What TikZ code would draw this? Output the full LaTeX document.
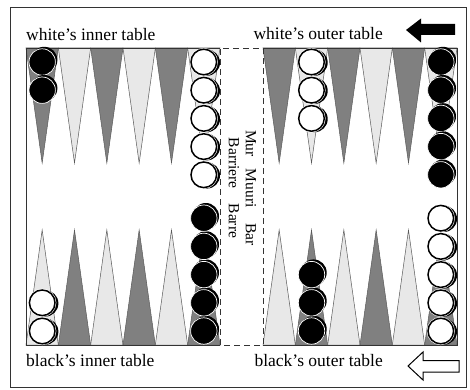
\documentclass[tikz,border=0pt]{standalone}
\usepackage{fontspec}
\setmainfont{Liberation Serif}
\usepackage{xcolor}
\usetikzlibrary{positioning,calc}

\begin{document}
\begin{tikzpicture}[x=1pt, y=1pt,
    darkpoint/.style={fill=black!50, draw=black!65, line width=0.5pt},
    lightpoint/.style={fill=black!9, draw=black!65, line width=0.5pt},
    label/.style={font=\fontsize{17.5}{20}\selectfont, inner sep=0pt},
    edge/.style={draw=black!80, line width=0.8pt}
]
    \useasboundingbox (0,0) rectangle (470,389);
    % frame and board
    \draw[edge] (10,2) rectangle (466,382);
    % points
    \foreach \x in {26,263} {
        \foreach \i/\s/\t in {0/darkpoint/lightpoint,1/lightpoint/darkpoint,2/darkpoint/lightpoint,
                              3/lightpoint/darkpoint,4/darkpoint/lightpoint,5/lightpoint/darkpoint} {
            \draw[\s] ({\x+\i*32.33},341) -- ({\x+(\i+0.5)*32.33},226) -- ({\x+(\i+1)*32.33},341) -- cycle;
            \draw[\t] ({\x+\i*32.33},44) -- ({\x+(\i+0.5)*32.33},159) -- ({\x+(\i+1)*32.33},44) -- cycle;
        }
    }
    \draw[edge] (220,341) -- (26,341) -- (26,44) -- (220,44);
    \draw[edge] (263,341) -- (457,341) -- (457,44) -- (263,44);
    % checkers: x / count / colour / top(1) or bottom(-1)
    \foreach \x/\n/\c/\d in {42.2/2/b/1, 203.8/5/w/1, 311.5/3/w/1, 440.8/5/b/1,
                             42.2/2/w/-1, 203.8/5/b/-1, 311.5/3/b/-1, 440.8/5/w/-1} {
        \foreach \j in {1,...,\n} {
            \pgfmathsetmacro{\y}{\d==1 ? 341-14-(\j-1)*28.2 : 44+14+(\j-1)*28.2}
            \if\c b
                \fill[black] (\x+2,\y+2) circle (13.2);
                \filldraw[fill=black, draw=white, line width=0.7pt] (\x,\y) circle (13.2);
            \else
                \fill[black] (\x+3,\y-0.6) circle (13.2);
                \draw[white, line width=2.6pt] (\x,\y) circle (12.8);
                \filldraw[fill=white, draw=black, line width=1.5pt] (\x,\y) circle (12.8);
            \fi
        }
    }
    \draw[edge, dash pattern=on 6pt off 4pt] (220,44) rectangle (263,341);
    % labels
    \node[label, anchor=base west] (whiteinner) at (26,348) {white’s inner table};
    \node[label, anchor=base east] (whiteouter) at (383,349) {white’s outer table};
    \node[label, anchor=base west] (blackinner) at (26,23) {black’s inner table};
    \node[label, anchor=base east] (blackouter) at (383,23) {black’s outer table};
    \node[rotate=-90, align=center, inner sep=0pt, font=\fontsize{15.5}{17}\selectfont] (bar) at (242.5,201)
        {Mur\hspace{12pt}Muuri\hspace{16pt}Bar\\Barriere\hspace{15pt}Barre};
    % direction arrows
    \fill[black] (406,359) -- (421,370.5) -- (421,365) -- (455,365) -- (455,354) -- (421,354) -- (421,346.5) -- cycle;
    \draw[fill=white, line width=1pt] (408,23) -- (423,37) -- (423,28.5) -- (459,28.5) -- (459,17) -- (423,17) -- (423,9) -- cycle;
\end{tikzpicture}
\end{document}
